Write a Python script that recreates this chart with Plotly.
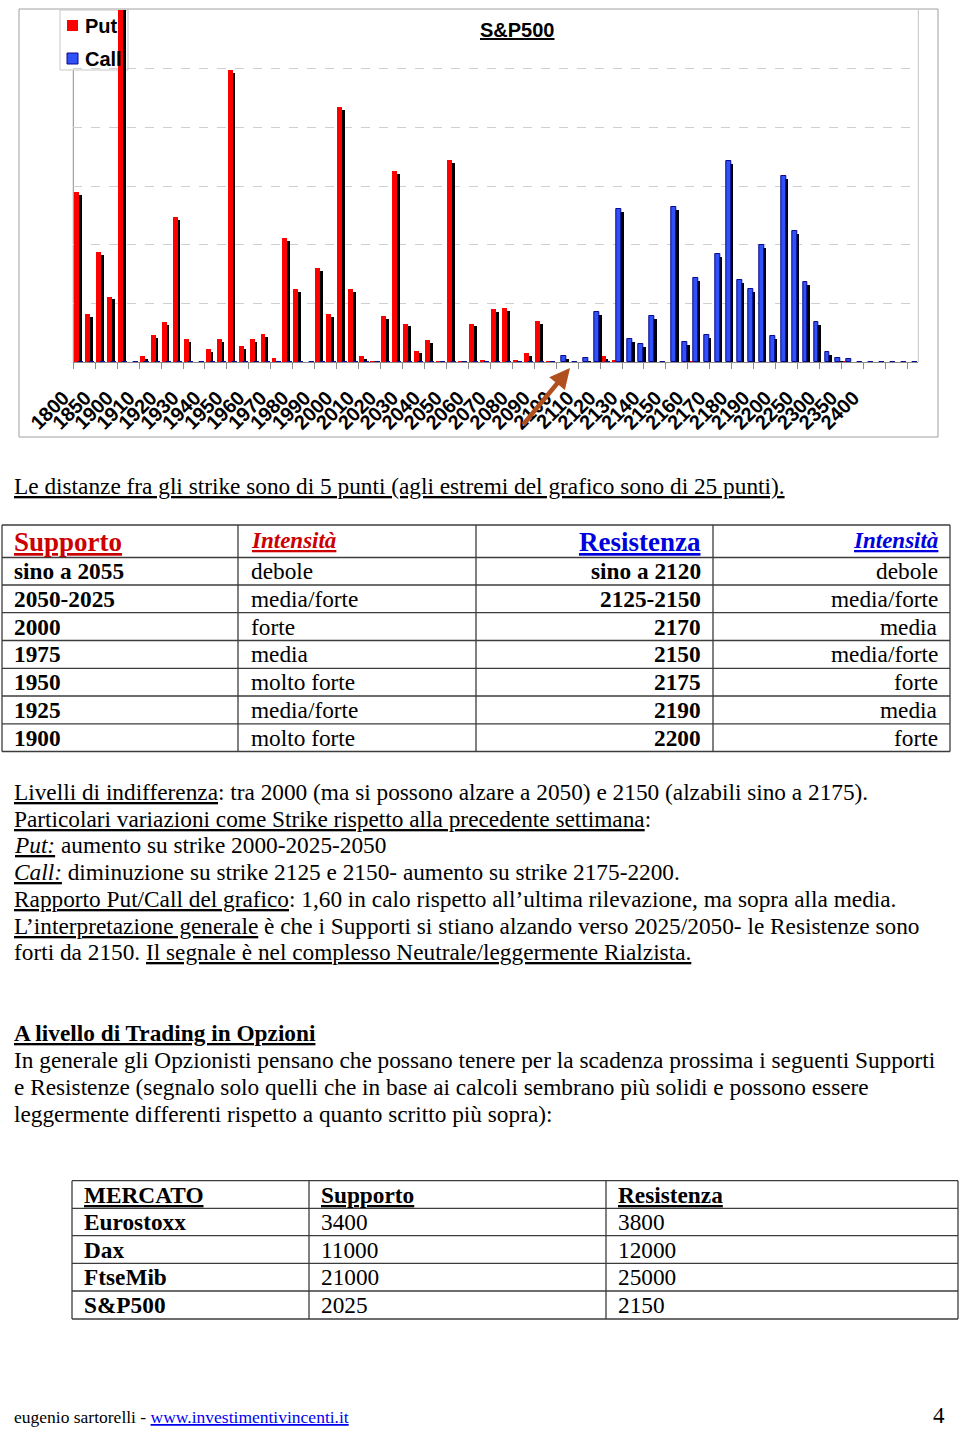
import plotly.graph_objects as go

W, H = 960, 1430

# ---------------- chart data ----------------
strikes = ["1800", "1825", "1850", "1875",
           "1900", "1905", "1910", "1915", "1920", "1925", "1930", "1935", "1940", "1945",
           "1950", "1955", "1960", "1965", "1970", "1975", "1980", "1985", "1990", "1995",
           "2000", "2005", "2010", "2015", "2020", "2025", "2030", "2035", "2040", "2045",
           "2050", "2055", "2060", "2065", "2070", "2075", "2080", "2085", "2090", "2095",
           "2100", "2105", "2110", "2115", "2120", "2125", "2130", "2135", "2140", "2145",
           "2150", "2155", "2160", "2165", "2170", "2175", "2180", "2185", "2190", "2195",
           "2200", "2225", "2250", "2275", "2300", "2325", "2350", "2375", "2400",
           "", "", "", ""]

put_oi = [2900, 830, 1880, 1120,
          6050, 0, 110, 470, 680, 2480, 390, 0, 220, 390,
          4980, 280, 390, 480, 70, 2110, 1250, 0, 1600, 830,
          4340, 1250, 110, 30, 790, 3260, 660, 200, 380, 20,
          3450, 20, 660, 40, 900, 920, 40, 150, 700, 20,
          0, 0, 0, 0, 110, 40, 0, 0, 0, 0,
          0, 0, 20, 0, 0, 0, 0, 0, 0, 0,
          0, 0, 0, 0, 0, 0, 20, 0, 0,
          0, 0, 0, 0]

call_oi = [0, 0, 0, 0,
           0, 0, 0, 0, 0, 0, 0, 0, 0, 0,
           0, 0, 0, 0, 0, 0, 0, 0, 0, 0,
           0, 0, 0, 0, 0, 0, 0, 0, 0, 0,
           0, 0, 0, 0, 0, 0, 0, 0, 0, 0,
           110, 0, 70, 860, 0, 2610, 390, 310, 790, 0,
           2650, 350, 1430, 470, 1840, 3420, 1400, 1250, 2000, 440,
           3180, 2240, 1360, 680, 180, 70, 50, 0, 0,
           0, 0, 0, 0]

# ---------------- tables / text ----------------
sup_levels = ["sino a 2055", "2050-2025", "2000", "1975", "1950", "1925", "1900"]
sup_strength = ["debole", "media/forte", "forte", "media", "molto forte", "media/forte", "molto forte"]
res_levels = ["sino a 2120", "2125-2150", "2170", "2150", "2175", "2190", "2200"]
res_strength = ["debole", "media/forte", "media", "media/forte", "forte", "media", "forte"]

markets = ["Eurostoxx", "Dax", "FtseMib", "S&P500"]
mkt_support = ["3400", "11000", "21000", "2025"]
mkt_resist = ["3800", "12000", "25000", "2150"]

note_line = "<u>Le distanze fra gli strike sono di 5 punti (agli estremi del grafico sono di 25 punti).</u>"
comment_lines = [
    "<u>Livelli di indifferenza</u>: tra 2000 (ma si possono alzare a 2050) e 2150 (alzabili sino a 2175).",
    "<u>Particolari variazioni come Strike rispetto alla precedente settimana</u>:",
    "<u><i>Put:</i></u> aumento su strike 2000-2025-2050",
    "<u><i>Call:</i></u> diminuzione su strike 2125 e 2150- aumento su strike 2175-2200.",
    "<u>Rapporto Put/Call del grafico</u>: 1,60 in calo rispetto all’ultima rilevazione, ma sopra alla media.",
    "<u>L’interpretazione generale</u> è che i Supporti si stiano alzando verso 2025/2050- le Resistenze sono",
    "forti da 2150. <u>Il segnale è nel complesso Neutrale/leggermente Rialzista.</u>",
]
trading_lines = [
    "<b><u>A livello di Trading in Opzioni</u></b>",
    "In generale gli Opzionisti pensano che possano tenere per la scadenza prossima i seguenti Supporti",
    "e Resistenze (segnalo solo quelli che in base ai calcoli sembrano più solidi e possono essere",
    "leggermente differenti rispetto a quanto scritto più sopra):",
]


def px(x):
    return x / W


def py(y):
    return 1 - y / H


SERIF = "Liberation Serif"
SANS = "Liberation Sans"
SHADOW = 50
BODY = 23.3

pos = list(range(len(strikes)))
put_shadow = [max(v - SHADOW, 0) for v in put_oi]
call_shadow = [max(v - SHADOW, 0) for v in call_oi]

fig = go.Figure()
fig.add_trace(go.Bar(x=pos, y=put_shadow, offset=-0.16, width=0.45, marker=dict(color="#000000", line=dict(width=0)),
                     showlegend=False, hoverinfo="skip"))
fig.add_trace(go.Bar(x=pos, y=put_oi, offset=-0.41, width=0.45, name="Put",
                     marker=dict(color="#ff0000", line=dict(width=0)), showlegend=False))
fig.add_trace(go.Bar(x=pos, y=call_shadow, offset=0.23, width=0.45, marker=dict(color="#000000", line=dict(width=0)),
                     showlegend=False, hoverinfo="skip"))
fig.add_trace(go.Bar(x=pos, y=call_oi, offset=-0.02, width=0.45, name="Call",
                     marker=dict(color="#3050f8", line=dict(width=1, color="#08088f")), showlegend=False))

tickvals = [i - 0.5 for i in range(0, len(strikes), 2)]
ticktext = strikes[0::2]

fig.update_layout(
    width=W, height=H, margin=dict(l=0, r=0, t=0, b=0, autoexpand=False),
    paper_bgcolor="white", plot_bgcolor="white",
    barmode="overlay", bargap=0,
    xaxis=dict(domain=[px(73.3), px(918.3)], range=[-0.5, len(strikes) - 0.5], automargin=False,
               tickmode="array", tickvals=tickvals, ticktext=ticktext, tickangle=-45,
               tickfont=dict(family=SANS, size=20, color="black", weight="bold"),
               ticklabelshift=-10, ticklabelstandoff=9,
               ticks="outside", ticklen=6, tickcolor="#8c8c8c",
               showline=True, linecolor="#8c8c8c", linewidth=1,
               showgrid=False, zeroline=False),
    yaxis=dict(domain=[py(362.3), py(10)], range=[0, 6000], tick0=0, dtick=1000, automargin=False,
               showticklabels=False, showgrid=True, gridcolor="#cfcfcf", griddash="dash",
               gridwidth=1, zeroline=False, showline=False, ticks=""),
    showlegend=False,
)

shapes = []
# outer chart frame
shapes.append(dict(type="rect", xref="paper", yref="paper", x0=px(19), x1=px(938), y0=py(437), y1=py(9),
                   line=dict(color="#a0a0a0", width=1), layer="below"))
# plot-area left axis line (hidden behind legend at top) and right edge
shapes.append(dict(type="line", xref="paper", yref="paper", x0=px(73.3), x1=px(73.3), y0=py(362.3), y1=py(70),
                   line=dict(color="#8c8c8c", width=1), layer="between"))
shapes.append(dict(type="line", xref="paper", yref="paper", x0=px(918.3), x1=px(918.3), y0=py(362.3), y1=py(10),
                   line=dict(color="#c4c4c4", width=1), layer="between"))
# legend box
shapes.append(dict(type="rect", xref="paper", yref="paper", x0=px(60), x1=px(128), y0=py(70), y1=py(10),
                   fillcolor="white", line=dict(color="#c8c8c8", width=1), layer="between"))
shapes.append(dict(type="rect", xref="paper", yref="paper", x0=px(67), x1=px(78), y0=py(31), y1=py(20),
                   fillcolor="#ff0000", line=dict(width=0), layer="between"))
shapes.append(dict(type="rect", xref="paper", yref="paper", x0=px(67), x1=px(78), y0=py(64), y1=py(53),
                   fillcolor="#3050f8", line=dict(color="#08088f", width=1), layer="between"))

# table 1 grid
t1_rows = [525, 557.5, 585, 612.7, 640.5, 668.3, 696, 723.8, 751.5]
t1_cols = [2, 238, 476, 713, 950]
for yy in t1_rows:
    shapes.append(dict(type="line", xref="paper", yref="paper", x0=px(t1_cols[0]), x1=px(t1_cols[-1]),
                       y0=py(yy), y1=py(yy), line=dict(color="#3c3c3c", width=1.3)))
for xx in t1_cols:
    shapes.append(dict(type="line", xref="paper", yref="paper", x0=px(xx), x1=px(xx),
                       y0=py(t1_rows[0]), y1=py(t1_rows[-1]), line=dict(color="#3c3c3c", width=1.3)))
# table 2 grid
t2_rows = [1180.7, 1208.3, 1235.7, 1263.3, 1291, 1319]
t2_cols = [72, 309, 606, 958]
for yy in t2_rows:
    shapes.append(dict(type="line", xref="paper", yref="paper", x0=px(t2_cols[0]), x1=px(t2_cols[-1]),
                       y0=py(yy), y1=py(yy), line=dict(color="#3c3c3c", width=1.3)))
for xx in t2_cols:
    shapes.append(dict(type="line", xref="paper", yref="paper", x0=px(xx), x1=px(xx),
                       y0=py(t2_rows[0]), y1=py(t2_rows[-1]), line=dict(color="#3c3c3c", width=1.3)))
fig.update_layout(shapes=shapes)

ann = []


def txt(x, y, text, size=BODY, family=SERIF, color="black", anchor="left", yanchor="middle"):
    ann.append(dict(xref="paper", yref="paper", x=px(x), y=py(y), text=text, showarrow=False,
                    xanchor=anchor, yanchor=yanchor, align=anchor,
                    font=dict(family=family, size=size, color=color)))


# chart title and legend labels
txt(517, 30, "<b><u>S&P500</u></b>", size=20, family=SANS, anchor="center")
txt(83, 26, "<b>Put</b>", size=20, family=SANS)
txt(83, 59, "<b>Call</b>", size=20, family=SANS)

# arrow pointing to current price
ann.append(dict(xref="paper", yref="paper", x=px(570), y=py(368), ax=-48, ay=58, text="",
                showarrow=True, arrowhead=2, arrowsize=0.9, arrowwidth=4.5, arrowcolor="#b0501e", standoff=0))

txt(12, 486, note_line)

# table 1
txt(12, 542, "<b><u>Supporto</u></b>", size=27, color="#cc0000")
txt(249, 540, "<b><i><u>Intensità</u></i></b>", size=23, color="#cc0000")
txt(703, 542, "<b><u>Resistenza</u></b>", size=27, color="#0000dd", anchor="right")
txt(940, 540, "<b><i><u>Intensità</u></i></b>", size=23, color="#0000dd", anchor="right")
for k in range(len(sup_levels)):
    yc = (t1_rows[k + 1] + t1_rows[k + 2]) / 2
    txt(12, yc, "<b>" + sup_levels[k] + "</b>")
    txt(249, yc, sup_strength[k])
    txt(703, yc, "<b>" + res_levels[k] + "</b>", anchor="right")
    txt(940, yc, res_strength[k], anchor="right")

for k, line in enumerate(comment_lines):
    txt(12, 792 + k * 26.7, line)

for k, line in enumerate(trading_lines):
    txt(12, 1033 + k * 27, line)

# table 2
txt(82, 1195, "<b><u>MERCATO</u></b>")
txt(319, 1195, "<b><u>Supporto</u></b>")
txt(616, 1195, "<b><u>Resistenza</u></b>")
for k in range(len(markets)):
    yc = (t2_rows[k + 1] + t2_rows[k + 2]) / 2
    txt(82, yc, "<b>" + markets[k] + "</b>")
    txt(319, yc, mkt_support[k])
    txt(616, yc, mkt_resist[k])

# footer
txt(12, 1417, "eugenio sartorelli - <span style='color:#0000ee'><u>www.investimentivincenti.it</u></span>", size=17.5)
txt(947, 1430, "4", size=23, anchor="right", yanchor="bottom")

fig.update_layout(annotations=ann)
fig.write_html("out.html", config={"displayModeBar": False},
               post_script="document.body.style.margin='0px';document.body.style.overflow='hidden';")
